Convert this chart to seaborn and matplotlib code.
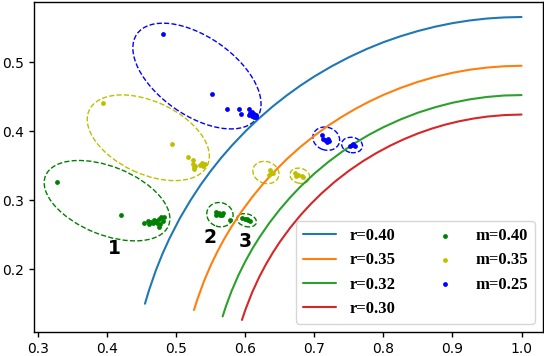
import numpy as np
import pandas as pd
import matplotlib
matplotlib.use('Agg')
import matplotlib.pyplot as plt
from matplotlib.patches import Ellipse
import seaborn as sns

# кривые r (точки)
r40_x = [0.4545, 0.46, 0.47, 0.48, 0.49, 0.505, 0.52, 0.535, 0.55, 0.565, 0.58, 0.60, 0.62, 0.64, 0.66,
         0.68, 0.70, 0.725, 0.75, 0.775, 0.80, 0.825, 0.85, 0.875, 0.90, 0.925, 0.95, 0.975, 1.00]
r40_y = [0.150, 0.1685, 0.1977, 0.2227, 0.2447, 0.2739, 0.2993, 0.3222, 0.3428, 0.3617, 0.3789, 0.4000,
         0.4190, 0.4364, 0.4521, 0.4665, 0.4796, 0.4943, 0.5074, 0.5190, 0.5292, 0.5379, 0.5454, 0.5517,
         0.5568, 0.5607, 0.5635, 0.5651, 0.5657]
r35_x = [0.5255, 0.53, 0.54, 0.55, 0.56, 0.57, 0.58, 0.595, 0.61, 0.625, 0.64, 0.66, 0.68, 0.70, 0.72,
         0.74, 0.76, 0.78, 0.80, 0.825, 0.85, 0.875, 0.90, 0.925, 0.95, 0.975, 1.00]
r35_y = [0.1409, 0.1552, 0.1828, 0.2062, 0.2267, 0.2452, 0.2619, 0.2846, 0.3048, 0.3231, 0.3397, 0.3597,
         0.3776, 0.3937, 0.4082, 0.4212, 0.4329, 0.4434, 0.4528, 0.4630, 0.4717, 0.4789, 0.4848, 0.4893,
         0.4924, 0.4943, 0.4950]
r32_x = [0.567, 0.572, 0.58, 0.59, 0.60, 0.61, 0.62, 0.635, 0.65, 0.665, 0.68, 0.70, 0.72, 0.74, 0.76,
         0.78, 0.80, 0.825, 0.85, 0.875, 0.90, 0.925, 0.95, 0.975, 1.00]
r32_y = [0.1316, 0.1470, 0.1685, 0.1916, 0.2117, 0.2296, 0.2458, 0.2676, 0.2869, 0.3043, 0.3200, 0.3388,
         0.3555, 0.3704, 0.3837, 0.3955, 0.4060, 0.4173, 0.4270, 0.4349, 0.4414, 0.4463, 0.4498, 0.4519,
         0.4525]
r30_x = [0.595, 0.60, 0.61, 0.62, 0.63, 0.64, 0.65, 0.665, 0.68, 0.695, 0.71, 0.73, 0.75, 0.77, 0.79,
         0.81, 0.83, 0.85, 0.87, 0.89, 0.91, 0.93, 0.95, 0.975, 1.00]
r30_y = [0.1265, 0.1414, 0.1670, 0.1887, 0.2076, 0.2245, 0.2398, 0.2603, 0.2786, 0.2949, 0.3097, 0.3273,
         0.3428, 0.3565, 0.3686, 0.3793, 0.3887, 0.3969, 0.4039, 0.4098, 0.4146, 0.4184, 0.4213, 0.4235,
         0.4243]
r_labels = ['r=0.40', 'r=0.35', 'r=0.32', 'r=0.30']

# точки m
m40_x = [0.3266, 0.4198, 0.4535, 0.4584, 0.4632, 0.4665, 0.4704, 0.4743, 0.4777, 0.4801, 0.4762, 0.4743,
         0.4825, 0.4607, 0.4680, 0.4713,
         0.5573, 0.5592, 0.5631, 0.5660, 0.5679, 0.5621, 0.5573, 0.5776,
         0.5945, 0.5993, 0.6041, 0.6065, 0.6017]
m40_y = [0.326, 0.279, 0.2675, 0.270, 0.2686, 0.2667, 0.2696, 0.2725, 0.2754, 0.270, 0.2657, 0.2617,
         0.2762, 0.2657, 0.2714, 0.2677,
         0.2835, 0.280, 0.2783, 0.279, 0.281, 0.2812, 0.2787, 0.271,
         0.2739, 0.2725, 0.2714, 0.2704, 0.273]
m35_x = [0.3937, 0.4936, 0.5163, 0.5236, 0.5255, 0.5255, 0.5366, 0.5390, 0.5414, 0.5340, 0.5270, 0.5376, 0.5244,
         0.6355, 0.6380, 0.6345, 0.6403, 0.6370,
         0.6717, 0.6765, 0.6814, 0.6838, 0.6740]
m35_y = [0.441, 0.382, 0.363, 0.358, 0.348, 0.345, 0.3526, 0.3497, 0.352, 0.351, 0.349, 0.3545, 0.352,
         0.3439, 0.3391, 0.3367, 0.340, 0.3401,
         0.3391, 0.3367, 0.3352, 0.3342, 0.3352]
m25_x = [0.481, 0.552, 0.574, 0.590, 0.593, 0.605, 0.610, 0.6055, 0.609, 0.612, 0.615, 0.613, 0.607, 0.616,
         0.7104, 0.7152, 0.7200, 0.7185, 0.7130, 0.7210,
         0.7538, 0.7586, 0.7562, 0.7514]
m25_y = [0.541, 0.454, 0.432, 0.433, 0.425, 0.432, 0.428, 0.424, 0.422, 0.421, 0.420, 0.425, 0.426, 0.423,
         0.3946, 0.3874, 0.3884, 0.3849, 0.3889, 0.386,
         0.3801, 0.3787, 0.3816, 0.378]
m_labels = ['m=0.40', 'm=0.35', 'm=0.25']

# эллипсы: центр, ширина, высота, угол
ell_green = [((0.3995, 0.2994), 0.1923, 0.0988, -22), ((0.5631, 0.2791), 0.0386, 0.0348, -20),
             ((0.6018, 0.2710), 0.0290, 0.0184, -15)]
ell_yellow = [((0.4593, 0.3906), 0.1890, 0.1050, -25), ((0.6297, 0.3403), 0.0386, 0.0314, -20),
              ((0.6789, 0.3355), 0.0290, 0.0217, -15)]
ell_blue = [((0.5298, 0.4801), 0.2123, 0.1137, -35), ((0.7171, 0.3893), 0.0396, 0.0329, -20),
            ((0.7545, 0.3801), 0.0304, 0.0222, -10)]

sns.set_style('ticks')
plt.rcParams['font.family'] = ['DejaVu Sans']
plt.rcParams['xtick.labelsize'] = 10
plt.rcParams['ytick.labelsize'] = 10
plt.rcParams['text.color'] = 'black'

fig = plt.figure(figsize=(5.44, 3.56), dpi=100)
ax = fig.add_axes([0.0616, 0.0674, 0.9364, 0.9261])

curves = [(r40_x, r40_y), (r35_x, r35_y), (r32_x, r32_y), (r30_x, r30_y)]
tab = sns.color_palette('tab10')
for i, (cx, cy) in enumerate(curves):
    sns.lineplot(x=cx, y=cy, ax=ax, color=tab[i], lw=1.5, sort=False, estimator=None, label=r_labels[i])

pts = [(m40_x, m40_y, 'g'), (m35_x, m35_y, 'y'), (m25_x, m25_y, 'b')]
for i, (px, py, c) in enumerate(pts):
    sns.scatterplot(x=px, y=py, ax=ax, color=c, s=12, linewidth=0, label=m_labels[i], zorder=3)

for ells, c in [(ell_green, 'g'), (ell_yellow, 'y'), (ell_blue, 'b')]:
    for (cen, w, h, ang) in ells:
        ax.add_patch(Ellipse(cen, w, h, angle=ang, fill=False, edgecolor=c, linestyle='--', lw=1))

# номера групп
ax.text(0.410, 0.2304, '1', fontsize=13.5, fontweight='bold', color='black', ha='center', va='center')
ax.text(0.5486, 0.2458, '2', fontsize=13.5, fontweight='bold', color='black', ha='center', va='center')
ax.text(0.5993, 0.2400, '3', fontsize=13.5, fontweight='bold', color='black', ha='center', va='center')

ax.set_xlim(0.293, 1.031)
ax.set_ylim(0.109, 0.587)
ax.set_xticks([0.3, 0.4, 0.5, 0.6, 0.7, 0.8, 0.9, 1.0])
ax.set_yticks([0.2, 0.3, 0.4, 0.5])
for s in ax.spines.values():
    s.set_color('black')
    s.set_linewidth(1)
ax.tick_params(colors='black', length=3.5, width=1)

handles, labels = ax.get_legend_handles_labels()
leg = ax.legend(handles, labels, ncol=2, loc='lower right',
                prop={'family': 'Liberation Serif', 'weight': 'bold', 'size': 12})
for t in leg.get_texts():
    t.set_color('black')

fig.savefig('out.png', dpi=100)
